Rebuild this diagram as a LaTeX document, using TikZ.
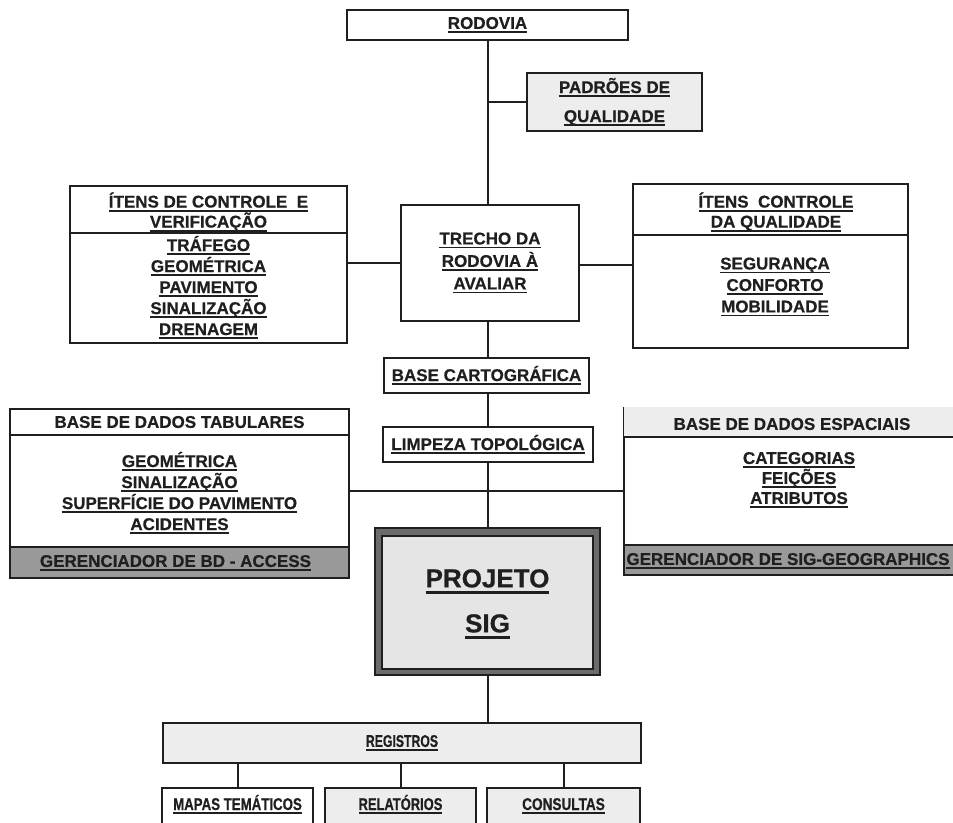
\documentclass[tikz,border=0pt]{standalone}
\usepackage{graphicx}
\usepackage{fontspec}
\setmainfont{Liberation Sans}[BoldFeatures={FakeBold=0.6}]
\definecolor{ink}{gray}{0.12}
\definecolor{paper}{gray}{0.93}
\definecolor{shade}{gray}{0.60}
\definecolor{band}{gray}{0.42}
\definecolor{inner}{gray}{0.90}
\newcommand\lbl{\fontsize{8.5}{10.5}\selectfont\bfseries}
\newsavebox\ulbox
\newcommand\ul[1]{\sbox\ulbox{#1}\rlap{\rule[-2pt]{\wd\ulbox}{0.9pt}}\usebox\ulbox}
\newcommand\ulbig[1]{\sbox\ulbox{#1}\rlap{\rule[-3.2pt]{\wd\ulbox}{1.5pt}}\usebox\ulbox}
% horizontally condensed, underlined label
\newcommand\ulnarrow[2]{\ul{\scalebox{#1}[1]{#2}}}
\begin{document}
\begin{tikzpicture}[x=0.5pt,y=-0.5pt,
  box/.style={draw=ink,line width=1pt,rectangle,inner sep=0pt,text=ink,align=center,font=\lbl},
  wire/.style={draw=ink,line width=1pt},
  txt/.style={inner sep=0pt,text=ink,align=center,font=\lbl},
  sz/.style 2 args={minimum width=#1*0.5pt,minimum height=#2*0.5pt},
  bottombox/.style={box,fill=paper,anchor=north,text height=11pt,text depth=25.5pt,minimum width=151*0.5pt}]
\useasboundingbox (0,0) rectangle (953,823);
\clip (0,0) rectangle (953,823);

% top chain
\node[box,sz={281}{30}] (rodovia) at (487.5,25) {\ul{RODOVIA}};
\node[box,sz={175}{58},fill=paper,font=\fontsize{8.5}{14.5}\selectfont\bfseries] (padroes) at (614.5,102)
  {\ul{PADRÕES DE}\\\ul{QUALIDADE}};
\node[box,sz={178}{116},font=\fontsize{8.5}{11.25}\selectfont\bfseries] (trecho) at (490,263)
  {\ul{TRECHO DA}\\\ul{RODOVIA À}\\\ul{AVALIAR}};

% control items (left)
\node[box,sz={277}{157}] (itens) at (208.5,264.5) {};
\draw[wire] (itens.west |- 0,233) -- (itens.east |- 0,233);
\node[txt,font=\fontsize{8.5}{10}\selectfont\bfseries] (itensH) at (208.5,212)
  {\ul{ÍTENS DE CONTROLE~~E}\\\ul{VERIFICAÇÃO}};
\node[txt] (itensB) at (208.5,287.5)
  {\ul{TRÁFEGO}\\\ul{GEOMÉTRICA}\\\ul{PAVIMENTO}\\\ul{SINALIZAÇÃO}\\\ul{DRENAGEM}};

% quality items (right)
\node[box,sz={275}{164}] (qual) at (770.5,266) {};
\draw[wire] (qual.west |- 0,235) -- (qual.east |- 0,235);
\node[txt,font=\fontsize{8.5}{10}\selectfont\bfseries] (qualH) at (776,212)
  {\ul{ÍTENS~~CONTROLE}\\\ul{DA QUALIDADE}};
\node[txt,font=\fontsize{8.5}{10.75}\selectfont\bfseries] (qualB) at (775,287)
  {\ul{SEGURANÇA}\\\ul{CONFORTO}\\\ul{MOBILIDADE}};

% cartographic steps
\node[box,sz={205}{35}] (carto) at (486.5,375.5) {\ul{BASE CARTOGRÁFICA}};
\node[box,sz={210}{35}] (limpeza) at (488,444.5) {\ul{LIMPEZA TOPOLÓGICA}};

% tabular database (left)
\node[box,sz={339}{169}] (tab) at (179.5,493.5) {};
\draw[wire] (tab.west |- 0,435) -- (tab.east |- 0,435);
\node[box,sz={339}{31},fill=shade,anchor=south] (tabF) at (tab.south) {};
\node[txt] (tabH) at (179.5,422) {BASE DE DADOS TABULARES};
\node[txt] (tabB) at (179.5,493)
  {\ul{GEOMÉTRICA}\\\ul{SINALIZAÇÃO}\\\ul{SUPERFÍCIE DO PAVIMENTO}\\\ul{ACIDENTES}};
\node[txt] (tabFT) at (175.5,563) {\ul{GERENCIADOR DE BD - ACCESS}};

% spatial database (right)
\node[box,sz={341}{167}] (esp) at (794.5,491.5) {};
\fill[paper] ([shift={(0.5,0.5)}]esp.north west) rectangle (965,437);
\draw[wire] (esp.west |- 0,437) -- (esp.east |- 0,437);
\node[box,sz={341}{30},fill=shade,anchor=south] (espF) at (esp.south) {};
\node[txt] (espH) at (792,424) {BASE DE DADOS ESPACIAIS};
\node[txt,font=\fontsize{8.5}{10}\selectfont\bfseries] (espB) at (799,480)
  {\ul{CATEGORIAS}\\\ul{FEIÇÕES}\\\ul{ATRIBUTOS}};
\node[txt] (espFT) at (788,561) {\ul{GERENCIADOR DE SIG-GEOGRAPHICS}};

% GIS project
\node[box,sz={225}{147},fill=band,line width=1.2pt] (projeto) at (487.5,601.5) {};
\draw[ink,fill=inner,line width=1pt] ([shift={(8,9)}]projeto.north west) rectangle ([shift={(-8,-7)}]projeto.south east);
\node[txt,font=\fontsize{13}{22.5}\selectfont\bfseries] (projetoT) at (487.5,604)
  {\ulbig{PROJETO}\\\ulbig{SIG}};

% records and outputs
\node[box,sz={478}{40},fill=paper] (registros) at (402,743) {\ulnarrow{0.72}{REGISTROS}};
\node[bottombox,fill=white] (mapas) at (237.5,787) {\ulnarrow{0.78}{MAPAS TEMÁTICOS}};
\node[bottombox] (relatorios) at (400.5,787) {\ulnarrow{0.76}{RELATÓRIOS}};
\node[bottombox,minimum width=153*0.5pt] (consultas) at (563.5,787) {\ulnarrow{0.8}{CONSULTAS}};

% connectors
\coordinate (spine) at (488,0);
\coordinate (hub) at (488,491);
\draw[wire] (rodovia.south) -- (rodovia.south |- trecho.north);
\draw[wire] (padroes.west) -- (padroes.west -| rodovia.south);
\draw[wire] (trecho.west) -- (trecho.west -| itens.east);
\draw[wire] ([yshift=-1pt]trecho.east) -- ([yshift=-1pt]trecho.east -| qual.west);
\draw[wire] (spine |- trecho.south) -- (spine |- carto.north);
\draw[wire] (spine |- carto.south) -- (spine |- limpeza.north);
\draw[wire] (spine |- limpeza.south) -- (spine |- projeto.north);
\draw[wire] (tab.east |- hub) -- (esp.west |- hub);
\draw[wire] (spine |- projeto.south) -- (spine |- registros.north);
\draw[wire] (mapas.north) -- (mapas.north |- registros.south);
\draw[wire] (relatorios.north) -- (relatorios.north |- registros.south);
\draw[wire] (consultas.north) -- (consultas.north |- registros.south);
\end{tikzpicture}
\end{document}
